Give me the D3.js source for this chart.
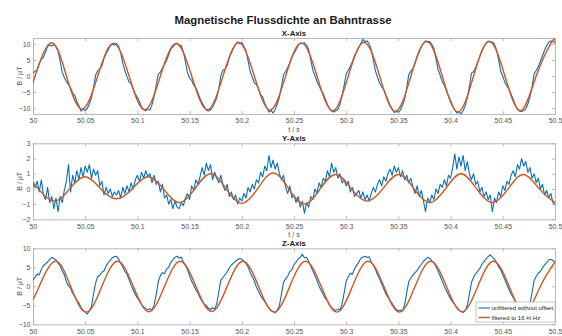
<!DOCTYPE html>
<html>
<head>
<meta charset="utf-8">
<script src="https://cdn.jsdelivr.net/npm/d3@7"></script>
<style>
  body { margin: 0; background: #fff; }
  text { font-family: "Liberation Sans", Arial, sans-serif; }
</style>
</head>
<body>
<div id="chart"></div>
<script>
// sampling of the unfiltered signals
var tStart = 50, tStep = 0.002;

var xTicks = [50, 50.05, 50.1, 50.15, 50.2, 50.25, 50.3, 50.35, 50.4, 50.45, 50.5];
var xTickLabels = ["50", "50.05", "50.1", "50.15", "50.2", "50.25", "50.3", "50.35", "50.4", "50.45", "50.5"];

var yTicksX = [-10, -5, 0, 5, 10];
var yTicksY = [-2, -1, 0, 1, 2, 3];
var yTicksZ = [-10, -5, 0, 5, 10];

var seriesNames = ["unfiltered without offset", "filtered to 16 \u2154 Hz"];

// X-Axis, unfiltered (every 2 ms)
var xRaw = [0.8,
  1.5, 1.8, 3.8, 5.2, 5.8, 7.5, 9.2, 9.6, 9.3, 9.9,
  9.1, 7.8, 4.5, 1.2, -0.5, -1.8, -2.6, -3.8, -5.2, -6.1,
  -7.9, -9.2, -10.9, -10.3, -10.7, -10.1, -8.6, -6.8, -3.5, 0.3,
  1.6, 2.2, 3.1, 5.4, 6.9, 8.1, 9.4, 9.9, 9.6, 10.1,
  9.3, 7.2, 3.9, 1.7, -0.2, -1.9, -2.4, -4.1, -5.6, -6.6,
  -8.0, -9.7, -10.4, -10.8, -10.2, -10.6, -8.9, -6.4, -2.8, 0.6,
  1.2, 2.5, 3.6, 4.9, 6.6, 8.4, 9.0, 9.8, 10.2, 9.7,
  9.5, 7.6, 4.4, 1.0, -0.6, -1.4, -2.9, -3.6, -5.3, -7.0,
  -8.3, -9.5, -10.6, -10.9, -10.5, -9.7, -8.2, -6.9, -3.9, 0.2,
  1.9, 2.0, 3.3, 5.7, 7.1, 8.6, 9.7, 10.6, 10.0, 10.4,
  9.2, 7.9, 4.7, 1.4, -0.3, -2.1, -2.7, -3.9, -5.8, -6.5,
  -8.5, -9.9, -11.2, -10.7, -11.5, -10.3, -8.7, -6.6, -3.2, 0.4,
  1.4, 2.6, 4.1, 6.0, 7.0, 8.2, 9.5, 10.2, 10.0, 10.3,
  9.6, 8.3, 5.1, 1.9, 0.1, -1.7, -3.0, -4.4, -5.5, -7.1,
  -8.8, -10.0, -10.9, -11.2, -10.8, -10.4, -8.8, -6.2, -3.0, 0.7,
  1.8, 3.0, 4.5, 6.4, 7.6, 8.9, 10.1, 11.4, 10.6, 10.9,
  10.0, 8.2, 4.9, 1.6, -0.4, -2.2, -3.3, -4.2, -5.9, -7.4,
  -9.1, -10.2, -11.3, -11.0, -11.2, -10.5, -9.0, -7.1, -3.6, 0.5,
  1.5, 2.4, 4.0, 5.9, 7.5, 9.1, 10.2, 10.9, 10.4, 10.7,
  9.8, 8.6, 5.4, 2.0, 0.2, -1.8, -2.9, -4.6, -6.2, -7.6,
  -9.3, -10.6, -11.5, -11.2, -11.8, -10.8, -9.2, -6.8, -3.3, 0.9,
  1.3, 2.7, 4.4, 6.1, 7.8, 9.0, 10.3, 10.8, 10.5, 10.6,
  9.9, 8.0, 5.0, 1.5, -0.1, -2.0, -3.1, -4.3, -5.7, -7.2,
  -9.0, -10.3, -10.9, -11.0, -10.7, -10.2, -8.7, -6.5, -3.4, 0.6,
  1.7, 2.9, 4.6, 6.3, 8.0, 9.4, 10.5, 10.9, 10.6, 10.2
];

// Y-Axis, unfiltered (every 2 ms)
var yRaw = [
  0.3, 0.1, 0.5, -0.2, 0.6, -0.4, -0.7, 0.1, -0.9, -0.5,
  -1.3, -0.6, -1.5, -0.5, -0.9, -0.1, 0.5, 1.6, -0.2, 0.9,
  0.4, 1.2, 0.6, 1.4, 0.8, 1.5, 1.1, 1.6, 0.7, 1.3,
  0.9, 1.2, 0.2, 0.5, -0.4, 0.1, -0.3, 0.0, -0.5, -0.2,
  -0.4, -0.1, -0.6, 0.1, -0.3, 0.2, -0.2, 0.4, 0.0, 0.6,
  0.9, 0.5, 1.1, 0.7, 1.2, 0.8, 1.0, 0.4, 0.9, 0.3,
  0.5, -0.2, 0.3, -0.6, -0.4, -1.0, -0.7, -1.3, -0.8, -1.2,
  -1.3, -0.9, -1.1, -0.6, -0.3, -0.7, 0.2, -0.1, 0.6, 0.3,
  0.8, 1.4, 0.9, 1.7, 1.2, 1.6, 0.6, 1.1, 0.7, 0.4,
  0.9, 0.2, -0.1, 0.3, -0.5, -0.2, -0.7, -0.4, -1.0, -0.6,
  -0.8, -0.3, -0.6, 0.1, -0.2, 0.3, 0.0, 0.6, 0.4, 1.1,
  0.8, 1.5, 1.2, 2.2, 1.4, 1.9, 1.3, 1.7, 1.0, 0.6,
  0.9, 0.1, -0.3, 0.2, -0.6, -0.4, -0.9, -0.5, -1.2, -0.8,
  -1.6, -0.9, -1.2, -0.5, -0.7, 0.0, -0.3, 0.4, 0.1, 0.7,
  0.5, 1.2, 0.8, 1.7, 1.1, 1.4, 0.7, 1.0, 0.4, 0.6,
  0.2, 0.5, -0.2, 0.1, -0.5, -0.3, -0.1, -0.6, -0.2, -0.7,
  -0.4, -0.8, -0.3, 0.1, -0.2, 0.3, 0.6, 0.2, 0.8, 0.5,
  1.0, 1.3, 0.9, 1.5, 1.1, 1.4, 0.8, 1.2, 0.6, 0.9,
  0.4, 0.7, 0.1, -0.3, 0.2, -0.5, -0.1, -0.8, -1.5, -0.6,
  -0.9, -0.4, -0.7, 0.0, -0.3, 0.3, 0.1, 0.6, 0.2, 0.9,
  0.7, 1.4, 2.3, 1.3, 2.1, 1.5, 2.2, 1.2, 1.8, 1.0,
  0.6, 1.0, 0.3, 0.5, -0.2, 0.1, -0.5, -0.2, -0.7, -0.4,
  -1.5, -0.6, -0.9, -0.2, -0.5, 0.2, -0.1, 0.5, 0.3, 0.9,
  1.2, 0.8, 1.6, 1.3, 2.0, 1.5, 1.8, 1.1, 1.4, 0.7,
  1.0, 0.4, 0.7, 0.0, 0.3, -0.4, -0.1, -0.6, -0.3, -0.9,
  -1.0
];

// Z-Axis, unfiltered (every 2 ms)
var zRaw = [
  1.6, 2.4, 3.2, 3.0, 4.5, 5.4, 5.9, 6.4, 7.1, 7.6,
  7.3, 7.0, 6.1, 5.4, 4.0, 3.1, 1.2, 0.1, -0.5, -1.9,
  -2.6, -3.7, -4.4, -5.6, -6.4, -6.8, -7.3, -6.5, -5.3, -1.9,
  0.9, 2.6, 2.9, 3.7, 4.1, 5.3, 6.2, 6.9, 7.5, 7.8,
  7.9, 7.2, 6.0, 5.1, 3.9, 3.2, 1.8, 0.3, -1.0, -2.2,
  -3.1, -3.6, -4.8, -5.4, -5.8, -6.2, -5.9, -6.3, -4.9, -2.2,
  1.2, 2.8, 3.6, 3.3, 4.6, 5.0, 6.3, 7.0, 7.6, 7.9,
  7.4, 7.7, 6.4, 5.5, 4.4, 2.8, 1.3, 0.2, -0.9, -1.8,
  -3.0, -3.9, -4.7, -5.1, -5.8, -6.1, -5.6, -6.0, -4.6, -1.4,
  1.7, 2.3, 3.1, 3.8, 4.8, 5.6, 6.1, 6.6, 7.0, 7.3,
  7.1, 6.6, 6.0, 5.0, 3.7, 2.6, 1.4, -0.2, -1.3, -2.4,
  -3.3, -4.0, -4.9, -5.7, -6.3, -6.6, -7.0, -6.2, -5.1, -2.0,
  1.1, 2.0, 2.7, 3.9, 4.4, 5.7, 6.4, 7.2, 7.6, 8.4,
  7.5, 7.6, 6.6, 5.3, 4.1, 2.9, 1.5, 0.0, -1.1, -2.1,
  -3.2, -3.8, -4.9, -5.6, -6.0, -6.4, -6.0, -6.2, -4.7, -1.8,
  1.4, 2.5, 3.4, 3.2, 4.6, 5.5, 6.3, 7.4, 7.7, 7.9,
  7.6, 7.8, 6.4, 5.6, 4.5, 3.0, 1.9, 0.6, -0.7, -2.0,
  -2.9, -3.8, -4.5, -5.4, -6.1, -6.5, -6.3, -6.4, -4.9, -1.6,
  1.3, 2.2, 3.0, 3.6, 4.2, 5.1, 5.8, 6.6, 7.0, 7.6,
  7.4, 6.7, 6.2, 5.2, 4.0, 2.7, 1.3, 0.0, -1.2, -2.3,
  -3.4, -4.1, -4.8, -5.5, -6.2, -6.6, -6.9, -6.4, -5.0, -2.1,
  1.0, 2.4, 3.3, 4.0, 4.7, 5.8, 6.5, 7.2, 7.8, 8.3,
  7.7, 7.2, 6.3, 5.1, 4.3, 3.0, 1.7, 0.4, -0.9, -2.1,
  -3.0, -3.9, -4.7, -5.6, -6.3, -6.9, -7.1, -6.2, -4.8, -1.7,
  1.5, 2.6, 3.5, 3.9, 4.9, 5.6, 6.2, 6.9, 7.1, 6.8,
  6.4
];

// filtered curves: read at their zero crossings and extrema
var xFiltT = [50, 50.002, 50.017, 50.032, 50.047, 50.062, 50.077, 50.092, 50.107, 50.122,
  50.137, 50.152, 50.167, 50.182, 50.197, 50.212, 50.227, 50.242, 50.257, 50.272,
  50.287, 50.302, 50.317, 50.332, 50.347, 50.362, 50.377, 50.392, 50.407, 50.422,
  50.437, 50.452, 50.467, 50.482, 50.497, 50.5];
var xFiltV = [-2.2, 0, 10.3, 0, -10.3, 0, 10.2, 0, -10.5, 0,
  10.1, 0, -10.5, 0, 10.4, 0, -10.6, 0, 10.3, 0,
  -10.8, 0, 10.5, 0, -11.0, 0, 10.8, 0, -11.2, 0,
  10.8, 0, -10.8, 0, 10.6, 10.5];

var yFiltT = [50, 50.005, 50.02, 50.035, 50.05, 50.065, 50.08, 50.095, 50.11, 50.125,
  50.14, 50.155, 50.17, 50.185, 50.2, 50.215, 50.23, 50.245, 50.26, 50.275,
  50.29, 50.305, 50.32, 50.335, 50.35, 50.365, 50.38, 50.395, 50.41, 50.425,
  50.44, 50.455, 50.47, 50.485, 50.5];
var yFiltV = [0.45, 0, -0.8, 0, 0.8, 0, -0.65, 0, 0.8, 0,
  -0.9, 0, 1.0, 0, -0.95, 0, 1.05, 0, -1.0, 0,
  0.95, 0, -0.8, 0, 0.95, 0, -0.9, 0, 1.0, 0,
  -0.9, 0, 0.95, 0, -0.9];

var zFiltT = [50, 50.006, 50.021, 50.036, 50.051, 50.066, 50.081, 50.096, 50.111, 50.126,
  50.141, 50.156, 50.171, 50.186, 50.201, 50.216, 50.231, 50.246, 50.261, 50.276,
  50.291, 50.306, 50.321, 50.336, 50.351, 50.366, 50.381, 50.396, 50.411, 50.426,
  50.441, 50.456, 50.471, 50.486, 50.5];
var zFiltV = [-3.5, 0, 6.6, 0, -6.8, 0, 6.6, 0, -6.7, 0,
  6.6, 0, -6.6, 0, 6.6, 0, -6.8, 0, 6.6, 0,
  -6.8, 0, 6.6, 0, -6.8, 0, 6.6, 0, -6.7, 0,
  6.6, 0, -6.7, 0, 6.4];

var width = 562,
  height = 336;

var left = 33, right = 555, panelHeight = 76;

var blue = "#0072BD", orange = "#D95319";

var panels = [
  { title: "X-Axis", top: 38, raw: xRaw, ft: xFiltT, fv: xFiltV, domain: [-11.8, 11.8], ticks: yTicksX, xlabel: true },
  { title: "Y-Axis", top: 143.3, raw: yRaw, ft: yFiltT, fv: yFiltV, domain: [-2, 3], ticks: yTicksY, xlabel: true },
  { title: "Z-Axis", top: 248.3, raw: zRaw, ft: zFiltT, fv: zFiltV, domain: [-10, 10], ticks: yTicksZ, xlabel: false }
];

var svg = d3.select("#chart").append("svg")
  .attr("width", width)
  .attr("height", height);

svg.append("text")
  .attr("x", 283)
  .attr("y", 24)
  .attr("text-anchor", "middle")
  .style("font-size", "11.4px")
  .style("font-weight", "bold")
  .style("fill", "#1a1a1a")
  .text("Magnetische Flussdichte an Bahntrasse");

var x = d3.scaleLinear()
  .domain([xTicks[0], xTicks[xTicks.length - 1]])
  .range([left, right]);

function styleAxis(g) {
  g.select(".domain").attr("stroke", "#b8b8b8");
  g.selectAll(".tick line").attr("stroke", "#b8b8b8");
  g.selectAll(".tick text")
    .style("font-size", "7px")
    .style("font-family", "Liberation Sans, Arial, sans-serif")
    .attr("fill", "#555");
}

panels.forEach(function(p, idx) {
  var bottom = p.top + panelHeight;
  var y = d3.scaleLinear().domain(p.domain).range([bottom, p.top]);
  var g = svg.append("g");

  g.append("clipPath")
    .attr("id", "clip" + idx)
    .append("rect")
    .attr("x", left).attr("y", p.top)
    .attr("width", right - left).attr("height", panelHeight);

  // box + inward ticks on all sides
  g.append("g")
    .attr("transform", "translate(0," + bottom + ")")
    .call(d3.axisBottom(x).tickValues(xTicks)
      .tickFormat(function(d, i) { return xTickLabels[i]; })
      .tickSizeInner(-3).tickSizeOuter(0).tickPadding(4.5))
    .call(styleAxis);
  g.append("g")
    .attr("transform", "translate(0," + p.top + ")")
    .call(d3.axisTop(x).tickValues(xTicks).tickFormat("")
      .tickSizeInner(-3).tickSizeOuter(0))
    .call(styleAxis);
  g.append("g")
    .attr("transform", "translate(" + left + ",0)")
    .call(d3.axisLeft(y).tickValues(p.ticks).tickFormat(d3.format("d"))
      .tickSizeInner(-3).tickSizeOuter(0).tickPadding(2.5))
    .call(styleAxis);
  g.append("g")
    .attr("transform", "translate(" + right + ",0)")
    .call(d3.axisRight(y).tickValues(p.ticks).tickFormat("")
      .tickSizeInner(-3).tickSizeOuter(0))
    .call(styleAxis);

  var rawLine = d3.line()
    .x(function(d, i) { return x(tStart + i * tStep); })
    .y(function(d) { return y(d); });

  g.append("path")
    .datum(p.raw)
    .attr("clip-path", "url(#clip" + idx + ")")
    .attr("fill", "none")
    .attr("stroke", blue)
    .attr("stroke-width", 1.1)
    .attr("stroke-linejoin", "round")
    .attr("d", rawLine);

  var filtLine = d3.line()
    .curve(d3.curveNatural)
    .x(function(d, i) { return x(p.ft[i]); })
    .y(function(d) { return y(d); });

  g.append("path")
    .datum(p.fv)
    .attr("clip-path", "url(#clip" + idx + ")")
    .attr("fill", "none")
    .attr("stroke", orange)
    .attr("stroke-width", 1.4)
    .attr("d", filtLine);

  g.append("text")
    .attr("x", (left + right) / 2)
    .attr("y", p.top - 2)
    .attr("text-anchor", "middle")
    .style("font-size", "7.8px")
    .style("font-weight", "bold")
    .style("fill", "#1a1a1a")
    .text(p.title);

  g.append("text")
    .attr("transform", "translate(19.5," + (p.top + panelHeight / 2) + ") rotate(-90)")
    .attr("dy", "0.35em")
    .attr("text-anchor", "middle")
    .style("font-size", "7px")
    .style("fill", "#555")
    .text("B / \u00b5T");

  if (p.xlabel) {
    g.append("text")
      .attr("x", (left + right) / 2)
      .attr("y", bottom + 15.5)
      .attr("dy", "0.35em")
      .attr("text-anchor", "middle")
      .style("font-size", "7px")
      .style("fill", "#555")
      .text("t / s");
  }

  if (idx === 2) {
    var lg = g.append("g").attr("transform", "translate(476,302)");
    lg.append("rect")
      .attr("width", 79).attr("height", 20)
      .attr("fill", "#fff")
      .attr("stroke", "#b8b8b8")
      .attr("stroke-width", 0.8);
    [blue, orange].forEach(function(c, k) {
      var ly = 6 + k * 9.5;
      lg.append("line")
        .attr("x1", 2.5).attr("x2", 14)
        .attr("y1", ly).attr("y2", ly)
        .attr("stroke", c)
        .attr("stroke-width", k ? 1.4 : 1.1);
      lg.append("text")
        .attr("x", 15.5).attr("y", ly)
        .attr("dy", "0.35em")
        .style("font-size", "6px")
        .style("fill", "#222")
        .text(seriesNames[k]);
    });
  }
});
</script>
</body>
</html>
